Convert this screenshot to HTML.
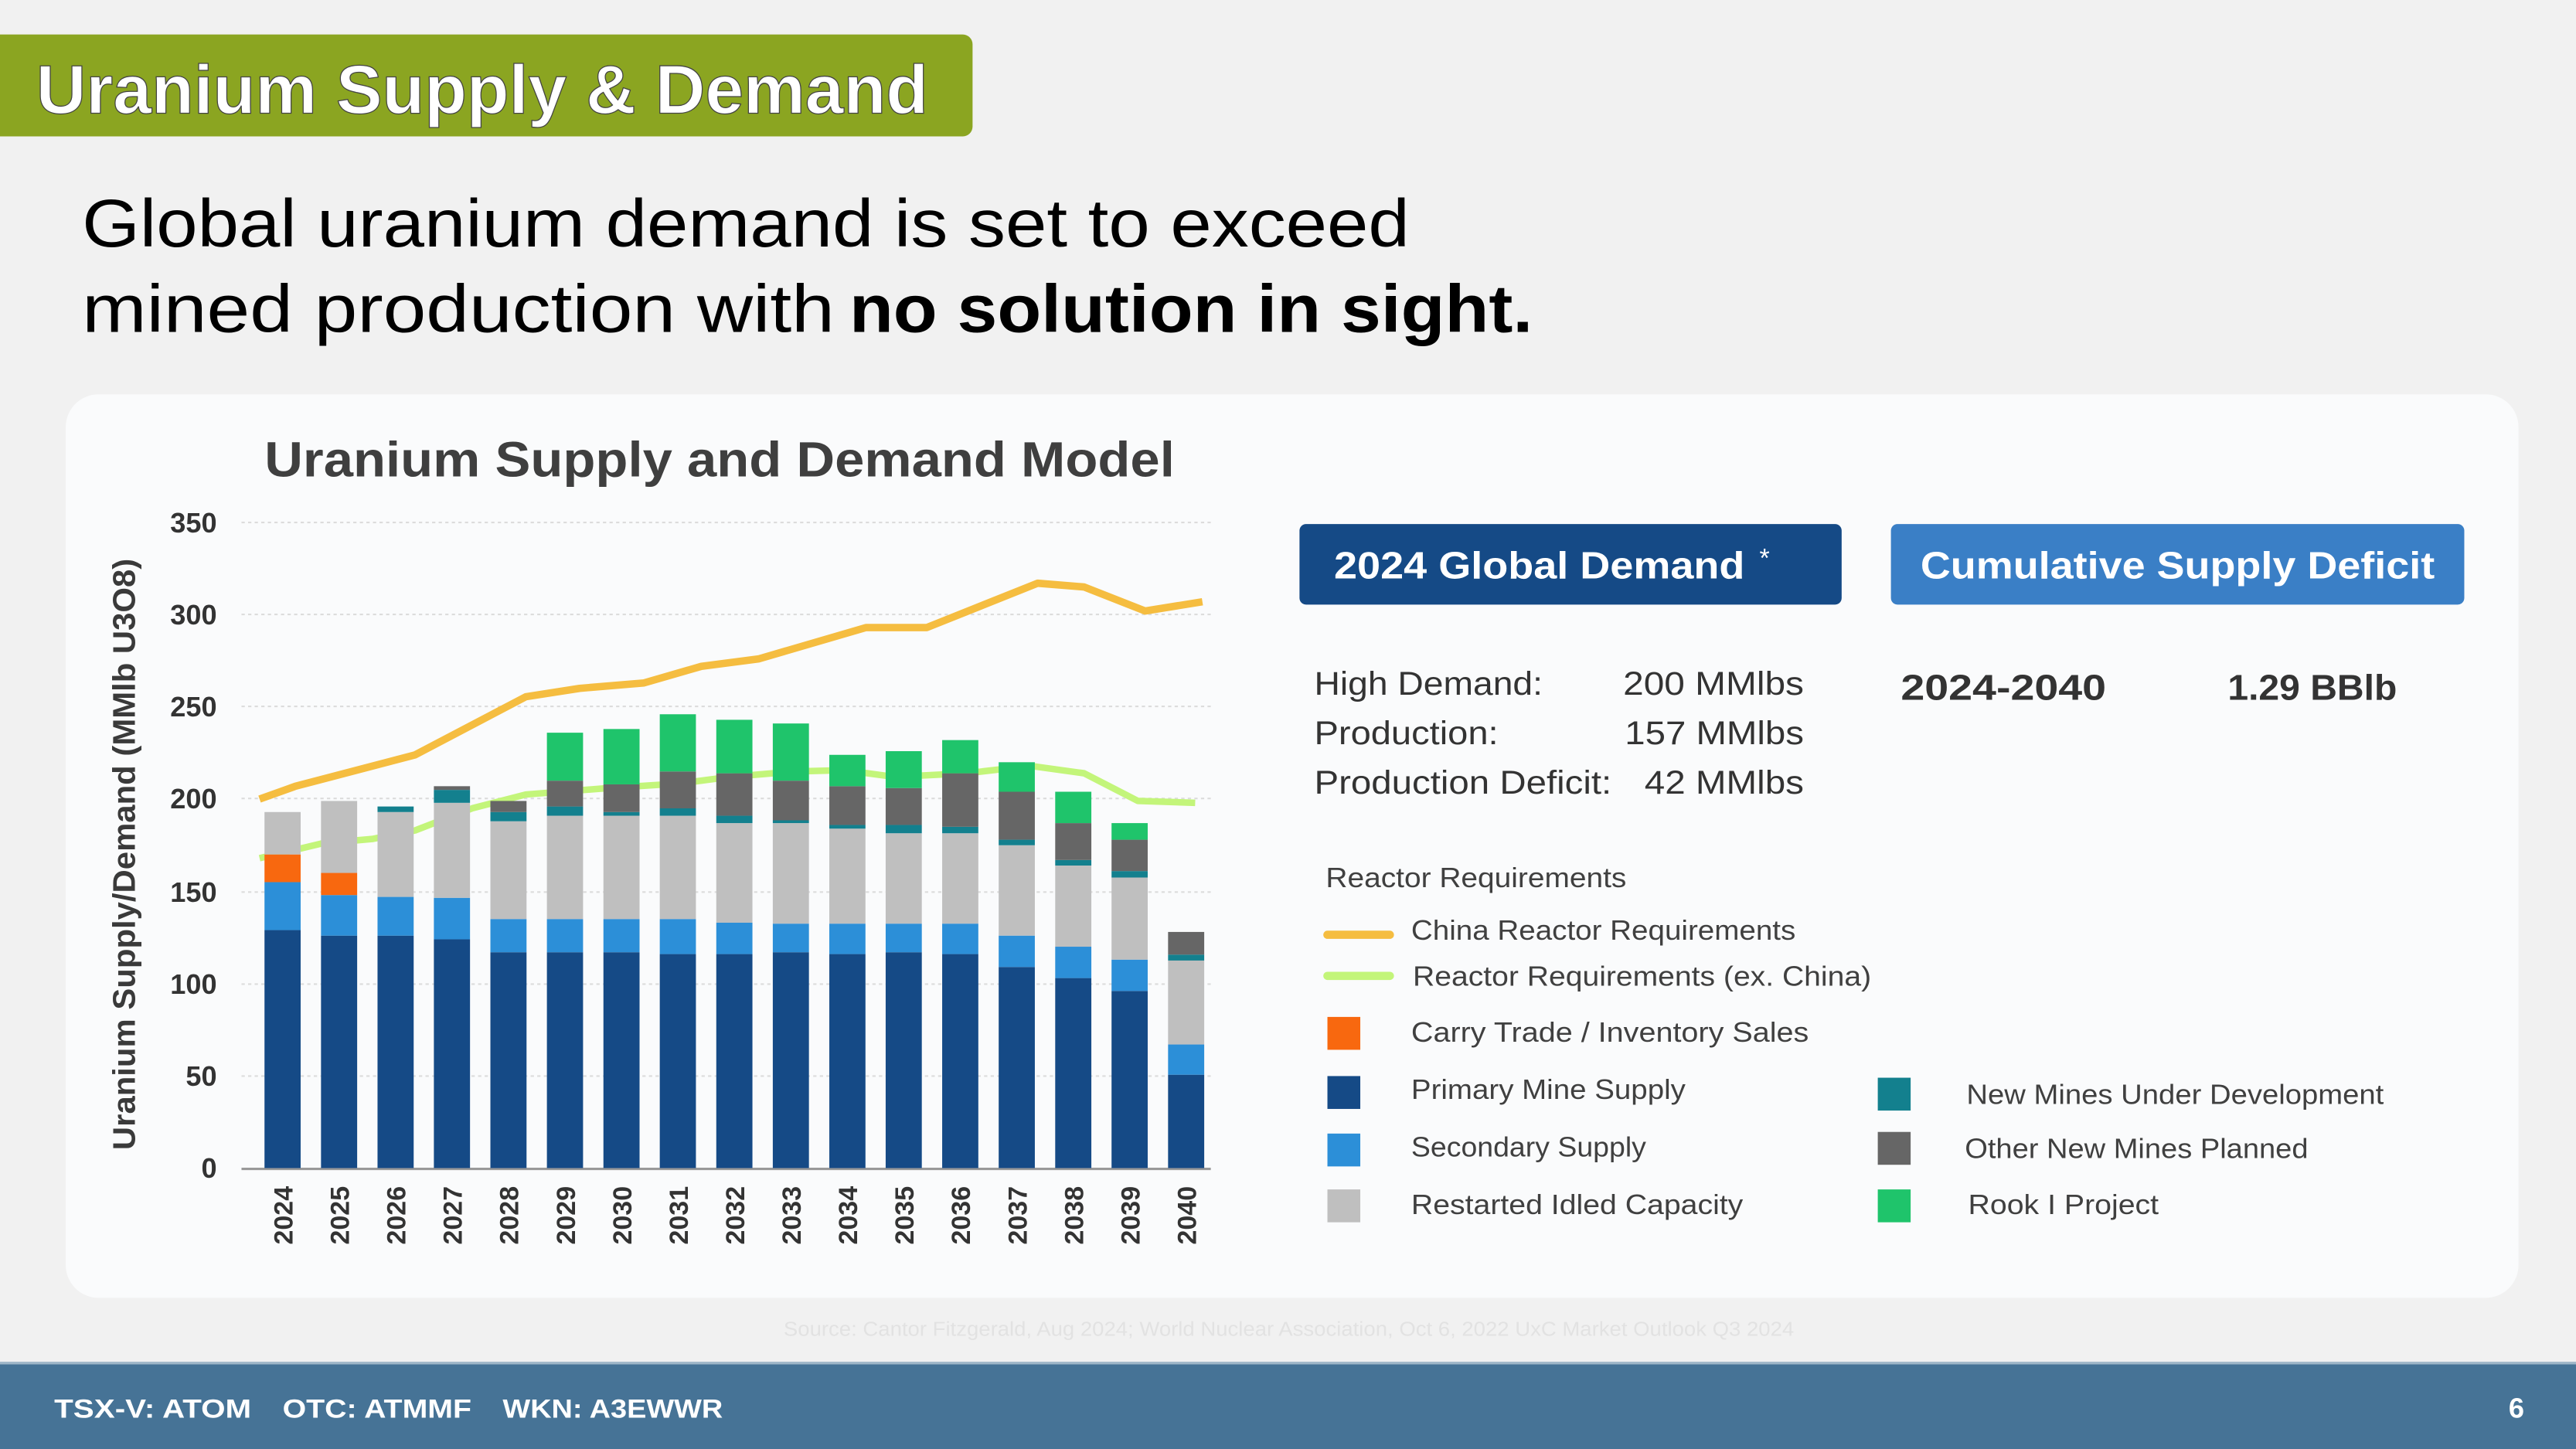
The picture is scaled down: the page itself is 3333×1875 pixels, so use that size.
<!DOCTYPE html>
<html><head><meta charset="utf-8"><style>
html,body{margin:0;padding:0;background:#f2f2f2;}
svg{display:block;font-family:"Liberation Sans",sans-serif;}
</style></head><body>
<svg width="3333" height="1875" viewBox="0 0 1568 882" preserveAspectRatio="none" xmlns="http://www.w3.org/2000/svg">
<rect width="1568" height="882" fill="#f1f1f1"/>
<!-- title -->
<rect x="-10" y="21" width="602" height="62" rx="6" fill="#8ba521"/>
<text x="22" y="69" font-size="42" font-weight="bold" fill="#fff" stroke="#444" stroke-width="0.6" textLength="543" lengthAdjust="spacingAndGlyphs">Uranium Supply &amp; Demand</text>
<text x="50" y="150" font-size="41" fill="#000" textLength="808" lengthAdjust="spacingAndGlyphs">Global uranium demand is set to exceed</text>
<text x="50" y="202" font-size="41" fill="#000" textLength="458" lengthAdjust="spacingAndGlyphs">mined production with</text>
<text x="517" y="202" font-size="41" font-weight="bold" fill="#000" textLength="416" lengthAdjust="spacingAndGlyphs">no solution in sight.</text>
<!-- card -->
<rect x="40" y="240" width="1493" height="550" rx="20" fill="#fafbfc"/>
<text x="161" y="290" font-size="30" font-weight="bold" fill="#3f3f3f" textLength="554" lengthAdjust="spacingAndGlyphs">Uranium Supply and Demand Model</text>
<!-- y axis label -->
<text transform="translate(82,520) rotate(-90)" text-anchor="middle" font-size="19" font-weight="bold" fill="#3a3a3a" textLength="360" lengthAdjust="spacingAndGlyphs">Uranium Supply/Demand (MMlb U3O8)</text>
<!-- grid -->
<g stroke="#dcdcdc" stroke-width="1" stroke-dasharray="2,2">
<line x1="147" x2="737" y1="318" y2="318"/><line x1="147" x2="737" y1="374" y2="374"/><line x1="147" x2="737" y1="430" y2="430"/><line x1="147" x2="737" y1="486" y2="486"/><line x1="147" x2="737" y1="543" y2="543"/><line x1="147" x2="737" y1="599" y2="599"/><line x1="147" x2="737" y1="655" y2="655"/>
</g>
<line x1="147" x2="737" y1="711.5" y2="711.5" stroke="#999" stroke-width="1.5"/>
<g font-size="17" font-weight="bold" fill="#333" text-anchor="end">
<text x="132" y="324">350</text><text x="132" y="380">300</text><text x="132" y="436">250</text><text x="132" y="492">200</text><text x="132" y="549">150</text><text x="132" y="605">100</text><text x="132" y="661">50</text><text x="132" y="717">0</text>
</g>
<!-- lines behind -->
<polyline fill="none" stroke="#c3f57a" stroke-width="4" stroke-linejoin="round" points="158,522.4 196,513.4 226.5,510.7 252.6,505.5 287.5,492 320.1,483.6 370.3,479.7 413.8,476.9 444.3,472.9 483.5,469.6 514,468.8 544.5,472.9 588,470.7 627.3,466.2 659.9,470.7 692.6,487.5 727.5,488.7"/>
<!-- bars -->
<g transform="translate(0,711) scale(1,-1.1229)">
<rect x="161" y="0" width="22" height="129" fill="#154a86"/><rect x="161" y="129" width="22" height="26" fill="#2c8fd8"/><rect x="161" y="155" width="22" height="15" fill="#f8680f"/><rect x="161" y="170" width="22" height="23" fill="#bfbfbf"/>
<rect x="195.4" y="0" width="22" height="126" fill="#154a86"/><rect x="195.4" y="126" width="22" height="22" fill="#2c8fd8"/><rect x="195.4" y="148" width="22" height="12" fill="#f8680f"/><rect x="195.4" y="160" width="22" height="39" fill="#bfbfbf"/>
<rect x="229.8" y="0" width="22" height="126" fill="#154a86"/><rect x="229.8" y="126" width="22" height="21" fill="#2c8fd8"/><rect x="229.8" y="147" width="22" height="46" fill="#bfbfbf"/><rect x="229.8" y="193" width="22" height="3" fill="#13808e"/>
<rect x="264.1" y="0" width="22" height="124" fill="#154a86"/><rect x="264.1" y="124" width="22" height="22.5" fill="#2c8fd8"/><rect x="264.1" y="146.5" width="22" height="51.5" fill="#bfbfbf"/><rect x="264.1" y="198" width="22" height="7" fill="#13808e"/><rect x="264.1" y="205" width="22" height="2" fill="#666"/>
<rect x="298.5" y="0" width="22" height="117" fill="#154a86"/><rect x="298.5" y="117" width="22" height="18" fill="#2c8fd8"/><rect x="298.5" y="135" width="22" height="53" fill="#bfbfbf"/><rect x="298.5" y="188" width="22" height="5" fill="#13808e"/><rect x="298.5" y="193" width="22" height="6" fill="#666"/>
<rect x="332.9" y="0" width="22" height="117" fill="#154a86"/><rect x="332.9" y="117" width="22" height="18" fill="#2c8fd8"/><rect x="332.9" y="135" width="22" height="56" fill="#bfbfbf"/><rect x="332.9" y="191" width="22" height="5" fill="#13808e"/><rect x="332.9" y="196" width="22" height="14" fill="#666"/><rect x="332.9" y="210" width="22" height="26" fill="#1fc46b"/>
<rect x="367.3" y="0" width="22" height="117" fill="#154a86"/><rect x="367.3" y="117" width="22" height="18" fill="#2c8fd8"/><rect x="367.3" y="135" width="22" height="56" fill="#bfbfbf"/><rect x="367.3" y="191" width="22" height="2" fill="#13808e"/><rect x="367.3" y="193" width="22" height="15" fill="#666"/><rect x="367.3" y="208" width="22" height="30" fill="#1fc46b"/>
<rect x="401.6" y="0" width="22" height="116" fill="#154a86"/><rect x="401.6" y="116" width="22" height="19" fill="#2c8fd8"/><rect x="401.6" y="135" width="22" height="56" fill="#bfbfbf"/><rect x="401.6" y="191" width="22" height="4" fill="#13808e"/><rect x="401.6" y="195" width="22" height="20" fill="#666"/><rect x="401.6" y="215" width="22" height="31" fill="#1fc46b"/>
<rect x="436" y="0" width="22" height="116" fill="#154a86"/><rect x="436" y="116" width="22" height="17" fill="#2c8fd8"/><rect x="436" y="133" width="22" height="54" fill="#bfbfbf"/><rect x="436" y="187" width="22" height="4" fill="#13808e"/><rect x="436" y="191" width="22" height="23" fill="#666"/><rect x="436" y="214" width="22" height="29" fill="#1fc46b"/>
<rect x="470.4" y="0" width="22" height="117" fill="#154a86"/><rect x="470.4" y="117" width="22" height="15.5" fill="#2c8fd8"/><rect x="470.4" y="132.5" width="22" height="54.5" fill="#bfbfbf"/><rect x="470.4" y="187" width="22" height="1.5" fill="#13808e"/><rect x="470.4" y="188.5" width="22" height="21.5" fill="#666"/><rect x="470.4" y="210" width="22" height="31" fill="#1fc46b"/>
<rect x="504.8" y="0" width="22" height="116" fill="#154a86"/><rect x="504.8" y="116" width="22" height="16.5" fill="#2c8fd8"/><rect x="504.8" y="132.5" width="22" height="51.5" fill="#bfbfbf"/><rect x="504.8" y="184" width="22" height="2" fill="#13808e"/><rect x="504.8" y="186" width="22" height="21" fill="#666"/><rect x="504.8" y="207" width="22" height="17" fill="#1fc46b"/>
<rect x="539.1" y="0" width="22" height="117" fill="#154a86"/><rect x="539.1" y="117" width="22" height="15.5" fill="#2c8fd8"/><rect x="539.1" y="132.5" width="22" height="49" fill="#bfbfbf"/><rect x="539.1" y="181.5" width="22" height="4.5" fill="#13808e"/><rect x="539.1" y="186" width="22" height="20" fill="#666"/><rect x="539.1" y="206" width="22" height="20" fill="#1fc46b"/>
<rect x="573.5" y="0" width="22" height="116" fill="#154a86"/><rect x="573.5" y="116" width="22" height="16.5" fill="#2c8fd8"/><rect x="573.5" y="132.5" width="22" height="49" fill="#bfbfbf"/><rect x="573.5" y="181.5" width="22" height="3.5" fill="#13808e"/><rect x="573.5" y="185" width="22" height="29" fill="#666"/><rect x="573.5" y="214" width="22" height="18" fill="#1fc46b"/>
<rect x="607.9" y="0" width="22" height="109" fill="#154a86"/><rect x="607.9" y="109" width="22" height="17" fill="#2c8fd8"/><rect x="607.9" y="126" width="22" height="49" fill="#bfbfbf"/><rect x="607.9" y="175" width="22" height="3" fill="#13808e"/><rect x="607.9" y="178" width="22" height="26" fill="#666"/><rect x="607.9" y="204" width="22" height="16" fill="#1fc46b"/>
<rect x="642.3" y="0" width="22" height="103" fill="#154a86"/><rect x="642.3" y="103" width="22" height="17" fill="#2c8fd8"/><rect x="642.3" y="120" width="22" height="44" fill="#bfbfbf"/><rect x="642.3" y="164" width="22" height="3" fill="#13808e"/><rect x="642.3" y="167" width="22" height="20" fill="#666"/><rect x="642.3" y="187" width="22" height="17" fill="#1fc46b"/>
<rect x="676.6" y="0" width="22" height="96" fill="#154a86"/><rect x="676.6" y="96" width="22" height="17" fill="#2c8fd8"/><rect x="676.6" y="113" width="22" height="44.5" fill="#bfbfbf"/><rect x="676.6" y="157.5" width="22" height="3.5" fill="#13808e"/><rect x="676.6" y="161" width="22" height="17" fill="#666"/><rect x="676.6" y="178" width="22" height="9" fill="#1fc46b"/>
<rect x="711" y="0" width="22" height="50.6" fill="#154a86"/><rect x="711" y="50.6" width="22" height="16.4" fill="#2c8fd8"/><rect x="711" y="67" width="22" height="45.5" fill="#bfbfbf"/><rect x="711" y="112.5" width="22" height="3.2" fill="#13808e"/><rect x="711" y="115.7" width="22" height="12.3" fill="#666"/>
</g>
<polyline fill="none" stroke="#f5bd40" stroke-width="4.5" stroke-linejoin="round" points="158,486.4 179.8,478.6 252.6,459.5 320.1,424.1 352.8,419 392,415.7 426.9,405.6 461.7,401.1 527.1,382 564.1,382 631.6,355 659.9,357.3 697,371.9 731.9,366.3"/>
<!-- x labels -->
<g font-size="16" font-weight="bold" fill="#333" text-anchor="end">
<text transform="translate(178,722) rotate(-90)">2024</text>
<text transform="translate(212.4,722) rotate(-90)">2025</text>
<text transform="translate(246.8,722) rotate(-90)">2026</text>
<text transform="translate(281.1,722) rotate(-90)">2027</text>
<text transform="translate(315.5,722) rotate(-90)">2028</text>
<text transform="translate(349.9,722) rotate(-90)">2029</text>
<text transform="translate(384.3,722) rotate(-90)">2030</text>
<text transform="translate(418.6,722) rotate(-90)">2031</text>
<text transform="translate(453,722) rotate(-90)">2032</text>
<text transform="translate(487.4,722) rotate(-90)">2033</text>
<text transform="translate(521.8,722) rotate(-90)">2034</text>
<text transform="translate(556.1,722) rotate(-90)">2035</text>
<text transform="translate(590.5,722) rotate(-90)">2036</text>
<text transform="translate(624.9,722) rotate(-90)">2037</text>
<text transform="translate(659.3,722) rotate(-90)">2038</text>
<text transform="translate(693.6,722) rotate(-90)">2039</text>
<text transform="translate(728,722) rotate(-90)">2040</text>
</g>
<!-- boxes -->
<rect x="791" y="319" width="330" height="49" rx="4" fill="#154a86"/>
<text x="812" y="352" font-size="23" font-weight="bold" fill="#fff" textLength="250" lengthAdjust="spacingAndGlyphs">2024 Global Demand</text>
<text x="1071" y="345" font-size="16" fill="#fff">*</text>
<rect x="1151" y="319" width="349" height="49" rx="4" fill="#3a7fc6"/>
<text x="1169" y="352" font-size="23" font-weight="bold" fill="#fff" textLength="313" lengthAdjust="spacingAndGlyphs">Cumulative Supply Deficit</text>
<g font-size="20" fill="#333">
<text x="800" y="423" textLength="139" lengthAdjust="spacingAndGlyphs">High Demand:</text>
<text x="988" y="423" textLength="110" lengthAdjust="spacingAndGlyphs">200 MMlbs</text>
<text x="800" y="453" textLength="112" lengthAdjust="spacingAndGlyphs">Production:</text>
<text x="989" y="453" textLength="109" lengthAdjust="spacingAndGlyphs">157 MMlbs</text>
<text x="800" y="483" textLength="181" lengthAdjust="spacingAndGlyphs">Production Deficit:</text>
<text x="1001" y="483" textLength="97" lengthAdjust="spacingAndGlyphs">42 MMlbs</text>
</g>
<text x="1157" y="426" font-size="22" font-weight="bold" fill="#333" textLength="125" lengthAdjust="spacingAndGlyphs">2024-2040</text>
<text x="1356" y="426" font-size="22" font-weight="bold" fill="#333" textLength="103" lengthAdjust="spacingAndGlyphs">1.29 BBlb</text>
<!-- legend -->
<g font-size="17" fill="#404040">
<text x="807" y="540" textLength="183" lengthAdjust="spacingAndGlyphs">Reactor Requirements</text>
<line x1="808" x2="846" y1="569" y2="569" stroke="#f5bd40" stroke-width="5" stroke-linecap="round"/>
<text x="859" y="572" textLength="234" lengthAdjust="spacingAndGlyphs">China Reactor Requirements</text>
<line x1="808" x2="846" y1="594" y2="594" stroke="#c3f57a" stroke-width="5" stroke-linecap="round"/>
<text x="860" y="600" textLength="279" lengthAdjust="spacingAndGlyphs">Reactor Requirements (ex. China)</text>
<rect x="808" y="619" width="20" height="20" fill="#f8680f"/>
<text x="859" y="634" textLength="242" lengthAdjust="spacingAndGlyphs">Carry Trade / Inventory Sales</text>
<rect x="808" y="655" width="20" height="20" fill="#154a86"/>
<text x="859" y="669" textLength="167" lengthAdjust="spacingAndGlyphs">Primary Mine Supply</text>
<rect x="808" y="690" width="20" height="20" fill="#2c8fd8"/>
<text x="859" y="704" textLength="143" lengthAdjust="spacingAndGlyphs">Secondary Supply</text>
<rect x="808" y="724" width="20" height="20" fill="#bfbfbf"/>
<text x="859" y="739" textLength="202" lengthAdjust="spacingAndGlyphs">Restarted Idled Capacity</text>
<rect x="1143" y="656" width="20" height="20" fill="#13808e"/>
<text x="1197" y="672" textLength="254" lengthAdjust="spacingAndGlyphs">New Mines Under Development</text>
<rect x="1143" y="689" width="20" height="20" fill="#666"/>
<text x="1196" y="705" textLength="209" lengthAdjust="spacingAndGlyphs">Other New Mines Planned</text>
<rect x="1143" y="724" width="20" height="20" fill="#1fc46b"/>
<text x="1198" y="739" textLength="116" lengthAdjust="spacingAndGlyphs">Rook I Project</text>
</g>
<text x="477" y="813" font-size="12" fill="#e2e2e2" textLength="615" lengthAdjust="spacingAndGlyphs">Source: Cantor Fitzgerald, Aug 2024; World Nuclear Association, Oct 6, 2022 UxC Market Outlook Q3 2024</text>
<!-- footer -->
<rect x="0" y="829" width="1568" height="53" fill="#467396"/>
<rect x="0" y="829" width="1568" height="1.5" fill="#9fb6c8"/>
<g font-size="16" font-weight="bold" fill="#fff">
<text x="33" y="863" textLength="120" lengthAdjust="spacingAndGlyphs">TSX-V: ATOM</text>
<text x="172" y="863" textLength="115" lengthAdjust="spacingAndGlyphs">OTC: ATMMF</text>
<text x="306" y="863" textLength="134" lengthAdjust="spacingAndGlyphs">WKN: A3EWWR</text>
</g>
<text x="1527" y="863" font-size="17" font-weight="bold" fill="#fff">6</text>
</svg>
</body></html>
